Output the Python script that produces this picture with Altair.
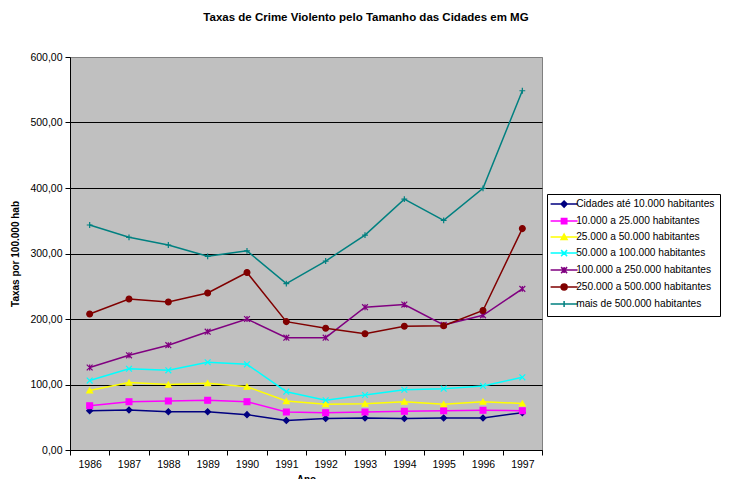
import altair as alt
import pandas as pd

years = [str(y) for y in range(1986, 1998)]
series = [
    "Cidades até 10.000 habitantes",
    "10.000 a 25.000 habitantes",
    "25.000 a 50.000 habitantes",
    "50.000 a 100.000 habitantes",
    "100.000 a 250.000 habitantes",
    "250.000 a 500.000 habitantes",
    "mais de 500.000 habitantes",
]
s1 = [60, 61, 58.5, 58.5, 54, 45, 48, 49, 48, 49, 49, 57]
s2 = [67.6, 73.8, 74.8, 75.8, 73.8, 58, 57, 58, 59, 60, 60.6, 60]
s3 = [91, 103, 100, 102, 96.7, 74.8, 70, 70.7, 73.8, 70, 73.8, 71]
s4 = [106, 124, 121.6, 134, 130.8, 89, 76, 84, 92, 93.6, 97.7, 111]
s5 = [126, 144.6, 160, 180.6, 200, 171.5, 171.5, 218, 222, 191, 205.6, 246]
s6 = [207.6, 230.5, 226, 239.7, 271, 196, 186, 177.6, 189, 189.8, 213, 338]
s7 = [343.5, 324.7, 313, 295.7, 304, 254, 288.5, 328, 383, 350.7, 399.5, 548.5]
values = [s1, s2, s3, s4, s5, s6, s7]

colors = ["#000080", "#FF00FF", "#FFFF00", "#00FFFF", "#800080", "#800000", "#008080"]

shapes = [
    "diamond",
    "square",
    "triangle-up",
    "M-1,-1L1,1M-1,1L1,-1",
    "M-1,-1L1,1M-1,1L1,-1M0,-1L0,1",
    "circle",
    "M-1,0L1,0M0,-1L0,1",
]
line_part = "M-4.5,0L4.5,0"
legend_shapes = [
    line_part + "M0,-1L1,0L0,1L-1,0Z",
    line_part + "M-0.9,-0.9L0.9,-0.9L0.9,0.9L-0.9,0.9Z",
    line_part + "M0,-1L1,0.8L-1,0.8Z",
    line_part + "M-1,-1L1,1M-1,1L1,-1",
    line_part + "M-1,-1L1,1M-1,1L1,-1M0,-1L0,1",
    line_part + "M-1,0A1,1 0 1,0 1,0A1,1 0 1,0 -1,0Z",
    line_part + "M-1,0L1,0M0,-1L0,1",
]

rows = []
for name, vals in zip(series, values):
    for yr, v in zip(years, vals):
        rows.append({"year": yr, "series": name, "value": v})
df = pd.DataFrame(rows)

FONT = "Liberation Sans"

x_enc = alt.X(
    "year:O",
    bandPosition=0.5,
    scale=alt.Scale(type="band", paddingInner=0, paddingOuter=0),
    axis=alt.Axis(
        title="Ano",
        labelAngle=0,
        tickBand="extent",
        domainColor="black",
        tickColor="black",
        tickSize=5,
        labelFontSize=10.5,
        labelFont=FONT,
        labelColor="black",
        labelPadding=4,
        titleFont=FONT,
        titleFontSize=10,
        titleFontWeight="bold",
        titleColor="black",
        titlePadding=5,
        grid=False,
    ),
)
y_enc = alt.Y(
    "value:Q",
    scale=alt.Scale(domain=[0, 600], nice=False, zero=True),
    axis=alt.Axis(
        title="Taxas por 100.000 hab",
        values=[0, 100, 200, 300, 400, 500, 600],
        labelExpr="replace(format(datum.value, '.2f'), '.', ',')",
        domainColor="black",
        tickColor="black",
        tickSize=5,
        labelFontSize=10.5,
        labelFont=FONT,
        labelColor="black",
        labelPadding=3,
        titleFont=FONT,
        titleFontSize=10,
        titleFontWeight="bold",
        titleColor="black",
        titlePadding=9,
        grid=True,
        gridColor={"condition": {"test": "datum.value == 600", "value": "#808080"}, "value": "black"},
        gridOpacity=1,
        gridWidth=1,
    ),
)

color_scale = alt.Scale(domain=series, range=colors)

base = alt.Chart(df)

lines = base.mark_line(strokeWidth=1.5).encode(
    x=x_enc,
    y=y_enc,
    color=alt.Color("series:N", scale=color_scale, legend=None),
    detail="series:N",
)

points = base.mark_point(filled=True, size=34, opacity=1, strokeWidth=1.2).encode(
    x=x_enc,
    y=y_enc,
    color=alt.Color("series:N", scale=color_scale, legend=None),
    stroke=alt.Stroke("series:N", scale=color_scale, legend=None),
    shape=alt.Shape("series:N", scale=alt.Scale(domain=series, range=shapes), legend=None),
)

legend_kw = dict(
    title=None,
    orient="none",
    legendX=477,
    legendY=137,
    symbolSize=36,
    symbolStrokeWidth=1.5,
    symbolOffset=7,
    labelOffset=7,
    rowPadding=4,
    padding=5,
    fillColor="white",
    strokeColor="black",
    labelFont=FONT,
    labelFontSize=10.2,
    labelColor="black",
    labelLimit=300,
)

legend_layer = base.transform_filter("false").mark_point(
    filled=True, size=36, opacity=1, strokeWidth=1.5
).encode(
    x=x_enc,
    y=y_enc,
    color=alt.Color("series:N", scale=color_scale, legend=alt.Legend(**legend_kw)),
    stroke=alt.Stroke("series:N", scale=color_scale, legend=alt.Legend(**legend_kw)),
    shape=alt.Shape(
        "series:N",
        scale=alt.Scale(domain=series, range=legend_shapes),
        legend=alt.Legend(**legend_kw),
    ),
)

chart = (
    alt.layer(lines, points, legend_layer)
    .resolve_scale(shape="independent", color="independent", stroke="independent")
    .resolve_legend(shape="independent", color="independent", stroke="independent")
    .properties(
        width=472,
        height=393,
        autosize=alt.AutoSizeParams(type="none"),
        padding={"left": 62, "top": 49, "right": 182, "bottom": 29},
        view=alt.ViewBackground(fill="#C0C0C0", stroke="#808080", strokeWidth=1),
        title=alt.TitleParams(
            "Taxas de Crime Violento pelo Tamanho das Cidades em MG",
            font=FONT,
            fontSize=11.5,
            fontWeight="bold",
            color="black",
            anchor="middle",
            frame="group",
            dx=60,
            offset=29,
        ),
    )
    .configure_view(fill="#C0C0C0", stroke="#808080", strokeWidth=1)
    .configure(background="white")
)

chart.save("out.html", embed_options={"renderer": "svg", "actions": False})
